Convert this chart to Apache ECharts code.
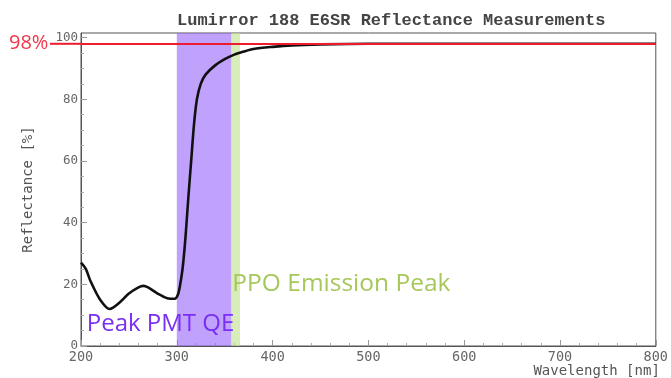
<!DOCTYPE html>
<html>
<head>
<meta charset="utf-8">
<script src="https://cdn.jsdelivr.net/npm/echarts@6/dist/echarts.min.js"></script>
<style>
  html, body { margin: 0; padding: 0; background: #fff; }
  #chart { width: 671px; height: 378px; }
</style>
</head>
<body>
<div id="chart"></div>
<script>
// reflectance curve
const wavelength = [200, 205, 210, 220, 230, 240, 250, 260, 265, 270, 280, 290, 298, 301, 303, 306, 309, 312, 315, 318, 321, 325, 330, 340, 350, 360, 370, 380, 400, 420, 450, 500, 550, 600, 650, 700, 750, 800];
const reflectance = [27, 25, 21, 15, 12, 14, 17, 19, 19.5, 19, 17, 15.5, 15.3, 16.5, 19, 25, 35, 48, 60, 72, 80, 85, 88, 91, 93, 94.5, 95.5, 96.3, 97, 97.5, 97.8, 98, 98, 98, 98, 98, 98, 98];

const pmtBand = [300, 357];
const ppoBand = [357, 366];
const refLevel = 98;
const xTicks = [200, 300, 400, 500, 600, 700, 800];
const yTicks = [0, 20, 40, 60, 80, 100];

const mono = "DejaVu Sans Mono";
const chart = echarts.init(document.getElementById("chart"), null, { renderer: "canvas" });

const option = {
  animation: false,
  title: {
    text: "Lumirror 188 E6SR Reflectance Measurements",
    left: 172,
    top: 7,
    textStyle: { fontFamily: "Liberation Mono", fontSize: 17, fontWeight: "bold", color: "#444" },
  },
  grid: { left: 81, right: 10, top: 33, bottom: 32, show: true, borderColor: "#555", borderWidth: 1, backgroundColor: "transparent" },
  xAxis: {
    type: "value",
    min: 200,
    max: 800,
    interval: 100,
    name: "Wavelength [nm]",
    nameLocation: "end",
    nameGap: 0,
    nameTextStyle: { fontFamily: mono, fontSize: 14, color: "#555", align: "right", verticalAlign: "top", padding: [18, -4, 0, 0] },
    axisLine: { show: true, lineStyle: { color: "#555", width: 1 } },
    axisTick: { show: true, inside: true, length: 6, lineStyle: { color: "#999" } },
    minorTick: { show: true, splitNumber: 5, length: 3, lineStyle: { color: "#aaa" } },
    axisLabel: { fontFamily: mono, fontSize: 13.5, color: "#666", margin: 4, customValues: xTicks },
    splitLine: { show: false },
  },
  yAxis: {
    type: "value",
    min: 0,
    max: 101.5,
    interval: 20,
    name: "Reflectance [%]",
    nameLocation: "middle",
    nameGap: 46,
    nameRotate: 90,
    nameTextStyle: { fontFamily: mono, fontSize: 14, color: "#555" },
    axisLine: { show: true, lineStyle: { color: "#555", width: 1 } },
    axisTick: { show: true, inside: true, length: 6, lineStyle: { color: "#999" }, customValues: yTicks },
    minorTick: { show: true, splitNumber: 4, length: 3, lineStyle: { color: "#aaa" } },
    axisLabel: { fontFamily: mono, fontSize: 12.5, color: "#666", margin: 3, customValues: yTicks },
    splitLine: { show: false },
  },
  series: [
    {
      type: "line",
      data: [],
      z: 1,
      markLine: {
        silent: true,
        symbol: "none",
        label: { show: false },
        lineStyle: { color: "#ee1c2e", width: 2, type: "solid" },
        data: [{ yAxis: refLevel }],
      },
    },
    {
      type: "line",
      data: wavelength.map((w, i) => [w, reflectance[i]]),
      smooth: 0.3,
      symbol: "none",
      z: 2,
      lineStyle: { color: "#111", width: 2.6 },
    },
    {
      type: "line",
      data: [],
      z: 4,
      markArea: {
        silent: true,
        data: [
          [{ xAxis: pmtBand[0], itemStyle: { color: "rgba(150,100,250,0.6)" } }, { xAxis: pmtBand[1] }],
          [{ xAxis: ppoBand[0], itemStyle: { color: "rgba(190,225,140,0.6)" } }, { xAxis: ppoBand[1] }],
        ],
      },
    },
  ],
};
chart.setOption(option);

// annotations placed through the axis scales
const yRef = chart.convertToPixel({ gridIndex: 0 }, [200, refLevel])[1];
const gridLeft = chart.convertToPixel({ gridIndex: 0 }, [200, 0])[0];
const pmtPos = chart.convertToPixel({ gridIndex: 0 }, [206, 7]);
const ppoPos = chart.convertToPixel({ gridIndex: 0 }, [358, 20]);
chart.setOption({
  graphic: [
    { type: "line", shape: { x1: 50, y1: yRef, x2: gridLeft, y2: yRef }, style: { stroke: "#ee1c2e", lineWidth: 2 }, z: 10 },
    { type: "text", x: 9, y: yRef, style: { text: "98%", fill: "#f0364a", font: "20px 'Open Sans'", verticalAlign: "middle" }, z: 10 },
    { type: "text", x: pmtPos[0], y: pmtPos[1], style: { text: "Peak PMT QE", fill: "#7a2ff5", font: "24px 'Open Sans'", verticalAlign: "middle" }, z: 3 },
    { type: "text", x: ppoPos[0], y: ppoPos[1], style: { text: "PPO Emission Peak", fill: "#a6c85a", font: "24.5px 'Open Sans'", verticalAlign: "middle" }, z: 10 },
  ],
});
</script>
</body>
</html>
